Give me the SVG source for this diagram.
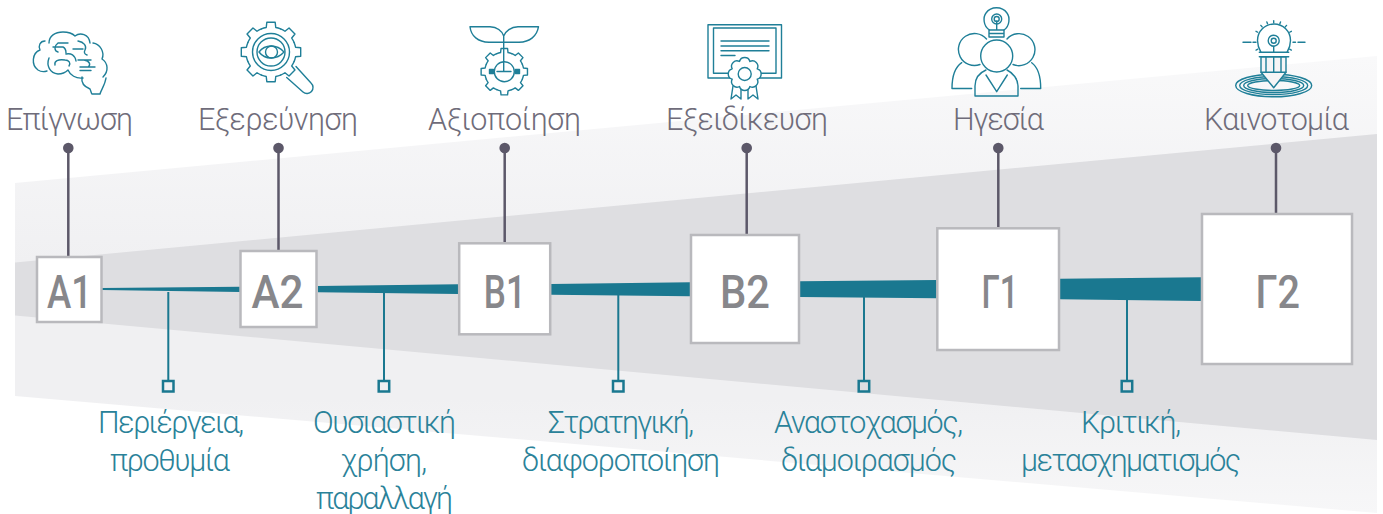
<svg xmlns="http://www.w3.org/2000/svg" xmlns:xlink="http://www.w3.org/1999/xlink" width="1383" height="514" viewBox="0 0 1383 514">
<style>
.ic{fill:none;stroke:#1f7f98;stroke-width:1.4;stroke-linecap:round;stroke-linejoin:round}
.pin{stroke:#5c5869;stroke-width:2.5;fill:none}
.dot{fill:#5c5869}
.stem{stroke:#1a7890;stroke-width:2;fill:none}
.sq{fill:none;stroke:#1a7890;stroke-width:2.5}
.bar{fill:#1a7890}
.box{fill:#fff;stroke:#b9b9bd;stroke-width:2.5}
.code{font-family:Roboto,"Liberation Sans",sans-serif;font-weight:500;font-size:45.5px;fill:#87878b;text-anchor:middle}
.top{font-family:Roboto,"Liberation Sans",sans-serif;font-weight:300;font-size:30.5px;fill:#6f6c7a;text-anchor:middle}
.low{font-family:Roboto,"Liberation Sans",sans-serif;font-weight:300;font-size:30.5px;fill:#2a8299;text-anchor:middle}
</style>
<defs>
<linearGradient id="lg" gradientUnits="userSpaceOnUse" x1="0" y1="56" x2="0" y2="513"><stop offset="0" stop-color="#f9f9fa"/><stop offset=".45" stop-color="#f0f0f2"/><stop offset=".75" stop-color="#f0f0f2"/><stop offset="1" stop-color="#f7f7f8"/></linearGradient>
<path id="sec" d="M-9.57-23.1A25 25 0 0 1-4.77-24.54L-4.18-29.7H4.18L4.77-24.54A25 25 0 0 1 9.57-23.1"/>
<g id="gear"><use xlink:href="#sec"/><use xlink:href="#sec" transform="rotate(45)"/><use xlink:href="#sec" transform="rotate(90)"/><use xlink:href="#sec" transform="rotate(135)"/><use xlink:href="#sec" transform="rotate(180)"/><use xlink:href="#sec" transform="rotate(225)"/><use xlink:href="#sec" transform="rotate(270)"/><use xlink:href="#sec" transform="rotate(315)"/></g>
<path id="ray" d="M0-20V-18"/>
</defs>

<g id="background">
<polygon points="15,183 1377,56 1377,513 15,396" fill="url(#lg)"/>
<polygon points="15,262.5 1377,134 1377,440 15,315.5" fill="#dedee1"/>
</g>

<g id="connectors">
<g id="bars">
<polygon class="bar" points="102,288 240,286.7 240,292 102,290"/>
<polygon class="bar" points="318,286 458,284.3 458,294 318,292.3"/>
<polygon class="bar" points="551,284 690,282.3 690,296.3 551,294.7"/>
<polygon class="bar" points="800,281.3 937,280 937,298.3 800,297"/>
<polygon class="bar" points="1060,278.7 1201,277.3 1201,301 1060,299.3"/>
</g>
<g id="pins">
<path class="pin" d="M68.3 148V256M278.5 148V250M504.700 148V242M746.700 148V234M998.300 148V227M1276 148V213"/>
<circle class="dot" cx="68.300" cy="148" r="5.300"/><circle class="dot" cx="278.500" cy="148" r="5.300"/><circle class="dot" cx="504.700" cy="148" r="5.300"/><circle class="dot" cx="746.700" cy="148" r="5.300"/><circle class="dot" cx="998.300" cy="148" r="5.300"/><circle class="dot" cx="1276" cy="148" r="5.300"/>
</g>
<g id="stems">
<path class="stem" d="M168.300 292V380M384 292V380M618.300 294V380M864 297V380M1127 299V380"/>
<rect class="sq" x="163" y="381" width="10.500" height="10.500"/><rect class="sq" x="378.700" y="381" width="10.500" height="10.500"/><rect class="sq" x="613" y="381" width="10.500" height="10.500"/><rect class="sq" x="858.700" y="381" width="10.500" height="10.500"/><rect class="sq" x="1121.700" y="381" width="10.500" height="10.500"/>
</g>
</g>

<g id="node-a1"><rect class="box" x="37" y="257" width="64.500" height="65"/><text class="code" x="69.500" y="307.500" textLength="45" lengthAdjust="spacingAndGlyphs">Α1</text>
<text class="top" x="69.500" y="130" textLength="127">Επίγνωση</text>
<g class="ic">
<path d="M45 41C40 41 38 46 40 50C32 53 31 65 38 70C41 72 44 72 47 71"/>
<path d="M49 43C49 36 55 32 63 32C68 32 72 33 75 36C80 32 89 34 90 43"/>
<path d="M93 43C100 44 105 52 102 59C108 63 109 71 103 77"/>
<path d="M49 58C46 66 50 73 58 74C62 74 66 72 68 70C70 75 76 79 83 78"/>
<path d="M82 77C81 83 85 87 90 89C91 91 91 93 92 94H100C101 90 105 85 106 78"/>
<path d="M58 43H68M58 43C54 46 54 51 58 52M53 47H63C65 48 66 50 66 53"/>
<path d="M73 49H83M78 41C84 42 87 46 85 50C84 52 84 54 87 55M66 54C71 53 75 55 76 61"/>
<path d="M55 65C54 61 58 59 65 60C69 60 71 63 69 66M78 60H91M84 60C90 61 91 65 88 67M80 67H95M80 70.500H91"/>
</g></g>

<g id="node-a2"><rect class="box" x="240.500" y="251" width="76" height="76"/><text class="code" x="277.500" y="307.500" textLength="52" lengthAdjust="spacingAndGlyphs">Α2</text>
<text class="top" x="278" y="130" textLength="160">Εξερεύνηση</text>
<g class="ic">
<use xlink:href="#gear" transform="translate(271 52)"/>
<circle cx="271" cy="52" r="18.500"/><circle cx="271" cy="52" r="14"/>
<path d="M259 52C265 44 277 44 284 52C277 60 265 60 259 52Z"/><circle cx="271.500" cy="52" r="6"/>
<path d="M286.700 77.500L303 92A6 6 0 0 0 311 83L296 66.500"/>
</g></g>

<g id="node-b1"><rect class="box" x="459.200" y="243.300" width="91" height="91"/><text class="code" x="504.800" y="307.500" textLength="42" lengthAdjust="spacingAndGlyphs">Β1</text>
<text class="top" x="504.500" y="130" textLength="153">Αξιοποίηση</text>
<g class="ic">
<use xlink:href="#gear" transform="translate(504.300 71.700) scale(.78)" style="stroke-width:1.800"/>
<circle cx="504.300" cy="71.700" r="10"/>
<path d="M470 26.700H490C497 27 502 31 503.700 36C505.500 31 511 27 518 26.700H538.500C537 36 530 42 519 42.300H489C478 42 471 36 470 26.700ZM503.700 36V71.500M497 71.500H511"/>
<rect x="489.500" y="69.500" width="4" height="4" fill="#1f7f98"/><rect x="515.500" y="69.500" width="4" height="4" fill="#1f7f98"/>
</g></g>

<g id="node-b2"><rect class="box" x="691" y="235" width="108" height="108"/><text class="code" x="745" y="307.500" textLength="50" lengthAdjust="spacingAndGlyphs">Β2</text>
<text class="top" x="747" y="130" textLength="162">Εξειδίκευση</text>
<g class="ic">
<rect x="708" y="24.800" width="73.500" height="53.200"/><rect x="713.500" y="28" width="62.500" height="45.300"/>
<path d="M721 41H769M721 46H769M721 50.700H769M721 55.500H735"/>
<path d="M733 86L731 99L736 95L741 99L741 88M748 88L748 99L753 95L758 99L756 86"/>
<path fill="#fff" d="M757.200 79.200A5.400 5.400 0 0 1 749.900 86.500A5.400 5.400 0 0 1 739.500 86.500A5.400 5.400 0 0 1 732.200 79.200A5.400 5.400 0 0 1 732.200 68.800A5.400 5.400 0 0 1 739.500 61.500A5.400 5.400 0 0 1 749.900 61.500A5.400 5.400 0 0 1 757.200 68.800A5.400 5.400 0 0 1 757.200 79.200Z"/>
<circle cx="744.700" cy="74" r="6.500"/>
</g></g>

<g id="node-g1"><rect class="box" x="937.300" y="228.300" width="121.700" height="121.700"/><text class="code" x="1000" y="307.500" textLength="37" lengthAdjust="spacingAndGlyphs">Γ1</text>
<text class="top" x="998.500" y="130" textLength="91">Ηγεσία</text>
<g class="ic">
<path d="M989.500 30C983 26 983 17 986 13C991 6 1002 6 1007 13C1010 17 1010 26 1004 30"/>
<circle cx="996.700" cy="19" r="5"/><circle cx="996.700" cy="19" r="2.500"/>
<path d="M996.700 21V30M989 30H1004V37H989ZM989 33.500H1004"/>
<path d="M986.500 39A16 16 0 1 0 980 64.500M1007 39A16 16 0 1 1 1013 64.500"/>
<circle cx="996.700" cy="56" r="16"/>
<path d="M986 70C979 73 975 79 975 86V96H1018V86C1018 79 1013 73 1007 70M986 75L996.700 91.700L1007.300 75"/>
<path d="M961.700 62.700C954 68 952 78 952 88.500H971.700M1031.700 62.700C1039 68 1040.700 78 1040.700 88.500H1020.700"/>
</g></g>

<g id="node-g2"><rect class="box" x="1202" y="214" width="150" height="150"/><text class="code" x="1277.800" y="307.500" textLength="44.500" lengthAdjust="spacingAndGlyphs">Γ2</text>
<text class="top" x="1276.500" y="130" textLength="145">Καινοτομία</text>
<g class="ic">
<ellipse cx="1273.700" cy="85.500" rx="38" ry="11.300"/><ellipse cx="1273.700" cy="85.500" rx="34" ry="9"/><ellipse cx="1273.700" cy="85.500" rx="30" ry="7"/><ellipse cx="1273.700" cy="85.500" rx="26" ry="5"/>
<path fill="#f5f5f6" d="M1261 56.700V72.300L1273.700 87.700L1286 72.300V56.700Z"/>
<path d="M1261 72.300H1286M1266 56.700V72.300M1273.700 56.700V72.300M1281 56.700V72.300M1259.300 52.300H1288.700M1259.300 56.700H1288.700"/>
<path d="M1261 52.300C1259 49 1257.500 45 1257.500 40.500A16.300 16.300 0 0 1 1290.500 40.500C1290.500 45 1289 49 1287 52.300"/>
<circle cx="1273.700" cy="40.700" r="5.500"/><circle cx="1273.700" cy="40.700" r="2.500"/><path d="M1273.700 46.200V52.300"/>
<path d="M1243 42.300H1251M1253 42.300H1256M1293 42.300H1295.500M1298 42.300H1305"/>
<g transform="translate(1273.700 40.700)"><use xlink:href="#ray"/><use xlink:href="#ray" transform="rotate(20)"/><use xlink:href="#ray" transform="rotate(40)"/><use xlink:href="#ray" transform="rotate(62)"/><use xlink:href="#ray" transform="rotate(-20)"/><use xlink:href="#ray" transform="rotate(-40)"/><use xlink:href="#ray" transform="rotate(-62)"/><use xlink:href="#ray" transform="rotate(118)"/><use xlink:href="#ray" transform="rotate(-118)"/></g>
</g></g>

<g id="labels">
<text class="low" x="171" y="433" textLength="146">Περιέργεια,</text>
<text class="low" x="170" y="471" textLength="120">προθυμία</text>
<text class="low" x="384.500" y="433" textLength="143">Ουσιαστική</text>
<text class="low" x="384" y="471" textLength="86">χρήση,</text>
<text class="low" x="384.500" y="509" textLength="137">παραλλαγή</text>
<text class="low" x="621" y="433" textLength="146">Στρατηγική,</text>
<text class="low" x="621" y="471" textLength="198">διαφοροποίηση</text>
<text class="low" x="868.500" y="433" textLength="189">Αναστοχασμός,</text>
<text class="low" x="869" y="471" textLength="176">διαμοιρασμός</text>
<text class="low" x="1131" y="433" textLength="100">Κριτική,</text>
<text class="low" x="1131" y="471" textLength="220">μετασχηματισμός</text>
</g>
</svg>
